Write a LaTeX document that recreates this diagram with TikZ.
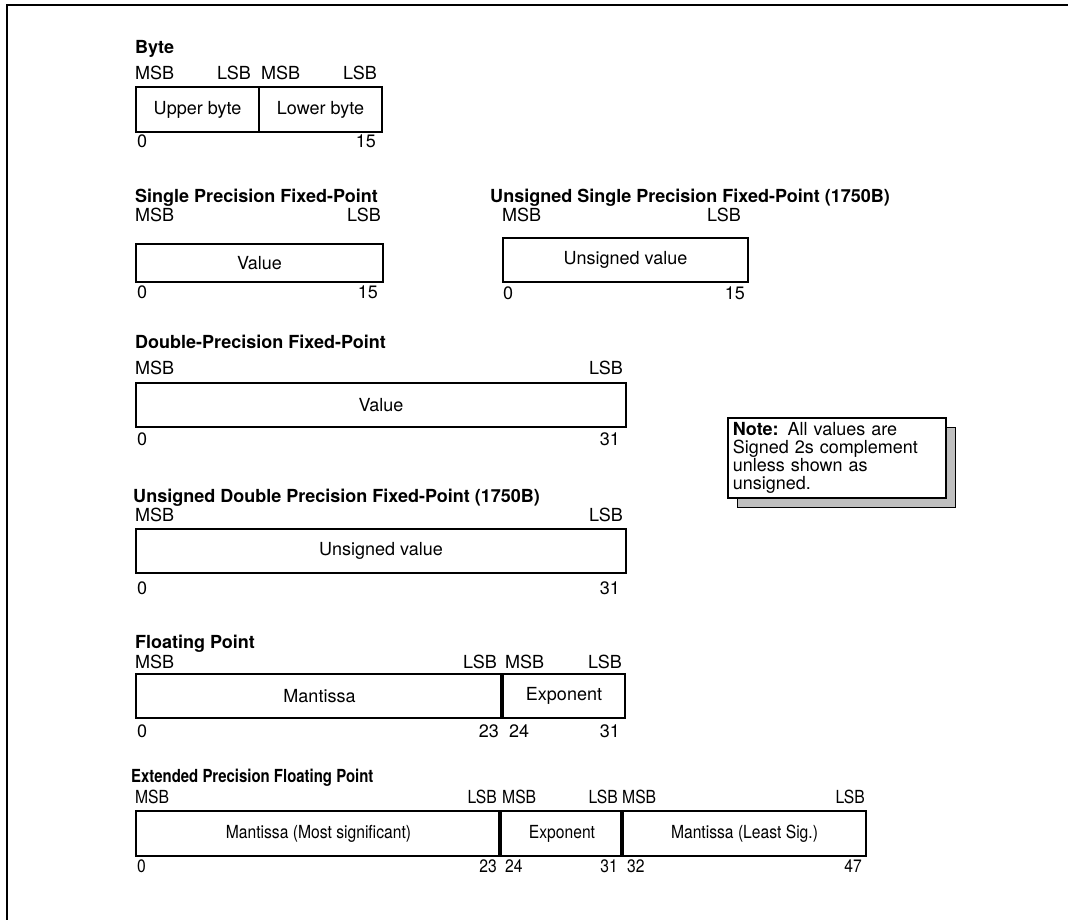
\documentclass[tikz,border=0pt]{standalone}
\usepackage{fontspec}
\setmainfont{TeX Gyre Heros}
\newfontfamily\narrowfont[FakeStretch=0.87]{TeX Gyre Heros}
\newfontfamily\narrowtitle[FakeStretch=0.83]{TeX Gyre Heros}
\newcommand{\fsz}{\fontsize{18}{19}\selectfont}
\begin{document}
\begin{tikzpicture}[x=1pt,y=-1pt,
  lbl/.style={inner sep=0pt, font=\fsz},
  lw/.style={lbl, anchor=base west},
  le/.style={lbl, anchor=base east},
  ttl/.style={inner sep=0pt, anchor=base west, font=\fsz\bfseries},
  fld/.style={draw, line width=2pt, inner sep=0pt, anchor=north west, font=\fsz},
  thickdiv/.style={line width=3.5pt},
  nlw/.style={lw, font=\fsz\narrowfont},
  nle/.style={le, font=\fsz\narrowfont},
  nfld/.style={fld, font=\fsz\narrowfont},
]
\useasboundingbox (0,0) rectangle (1068,920);
% frame
\draw[line width=2pt] (7,920) -- (7,5) -- (1068,5);

% ---------------- Byte
\node[ttl] (tB) at (135,54) {Byte};
\node[lw] (bm1) at (135,80) {MSB};
\node[le] (bl1) at (251,80) {LSB};
\node[lw] (bm2) at (261,80) {MSB};
\node[le] (bl2) at (377,80) {LSB};
\node[fld, minimum width=123, minimum height=45] (ub) at (135,86) {Upper byte};
\node[fld, minimum width=123, minimum height=45] (lb) at (258,86) {Lower byte};
\node[lw] (bn0) at (137,148) {0};
\node[le] (bn15) at (376,148) {15};

% ---------------- Single precision
\node[ttl] (tSP) at (135,203) {Single Precision Fixed-Point};
\node[lw] (sm) at (135,222) {MSB};
\node[le] (sl) at (381,222) {LSB};
\node[fld, minimum width=247, minimum height=38] (sv) at (135,243) {Value};
\node[lw] (sn0) at (137,298) {0};
\node[le] (sn15) at (378,298) {15};

\node[ttl] (tUSP) at (490,203) {Unsigned Single Precision Fixed-Point (1750B)};
\node[lw] (um) at (502,222) {MSB};
\node[le] (ul) at (741,222) {LSB};
\node[fld, minimum width=245, minimum height=44] (uv) at (502,237) {Unsigned value};
\node[lw] (un0) at (503,299) {0};
\node[le] (un15) at (745,299) {15};

% ---------------- Double precision
\node[ttl] (tDP) at (135,348) {Double-Precision Fixed-Point};
\node[lw] (dm) at (135,374) {MSB};
\node[le] (dl) at (623,374) {LSB};
\node[fld, minimum width=490, minimum height=44] (dv) at (135,382) {Value};
\node[lw] (dn0) at (137,445) {0};
\node[le] (dn31) at (620,445) {31};

% ---------------- Unsigned double
\node[ttl] (tUDP) at (133,502) {Unsigned Double Precision Fixed-Point (1750B)};
\node[lw] (udm) at (135,521) {MSB};
\node[le] (udl) at (623,521) {LSB};
\node[fld, minimum width=490, minimum height=44] (udv) at (135,528) {Unsigned value};
\node[lw] (udn0) at (137,594) {0};
\node[le] (udn31) at (620,594) {31};

% ---------------- Floating point
\node[ttl] (tFP) at (135,648) {Floating Point};
\node[lw] (fm1) at (135,668) {MSB};
\node[le] (fl1) at (497,668) {LSB};
\node[lw] (fm2) at (505,668) {MSB};
\node[le] (fl2) at (622,668) {LSB};
\node[fld, minimum width=367, minimum height=44] (fman) at (135,673) {Mantissa};
\node[fld, minimum width=122, minimum height=44] (fexp) at (502,673) {Exponent};
\draw[thickdiv] (fexp.north west) -- (fexp.south west);
\node[lw] (fn0) at (137,737) {0};
\node[le] (fn23) at (499,737) {23};
\node[lw] (fn24) at (509,737) {24};
\node[le] (fn31) at (620,737) {31};

% ---------------- Extended precision
\node[ttl, font=\fsz\bfseries\narrowtitle] (tEP) at (131,782) {Extended Precision Floating Point};
\node[nlw] (em1) at (135,803) {MSB};
\node[nle] (el1) at (497,803) {LSB};
\node[nlw] (em2) at (502,803) {MSB};
\node[nle] (el2) at (618,803) {LSB};
\node[nlw] (em3) at (622,803) {MSB};
\node[nle] (el3) at (865,803) {LSB};
\node[nfld, minimum width=365, minimum height=45] (eman1) at (135,810) {Mantissa (Most significant)};
\node[nfld, minimum width=122, minimum height=45] (eexp) at (500,810) {Exponent};
\node[nfld, minimum width=243, minimum height=45] (eman2) at (622,810) {Mantissa (Least Sig.)};
\draw[thickdiv] (eexp.north west) -- (eexp.south west);
\draw[thickdiv] (eman2.north west) -- (eman2.south west);
\node[nlw] (en0) at (137,872) {0};
\node[nle] (en23) at (497,872) {23};
\node[nlw] (en24) at (505,872) {24};
\node[nle] (en31) at (618,872) {31};
\node[nlw] (en32) at (627,872) {32};
\node[nle] (en47) at (862,872) {47};

% ---------------- Note
\fill[gray!50] (737,427) rectangle (955,507);
\draw[line width=0.6pt] (737,427) rectangle (955,507);
\node[draw, fill=white, line width=1.6pt, anchor=north west, minimum width=218, minimum height=80,
      inner sep=4pt, text width=208pt, align=left, font=\fontsize{18}{18}\selectfont] (note) at (727,417)
  {\textbf{Note:} All values are\\Signed 2s complement\\unless shown as\\unsigned.};
\end{tikzpicture}
\end{document}
